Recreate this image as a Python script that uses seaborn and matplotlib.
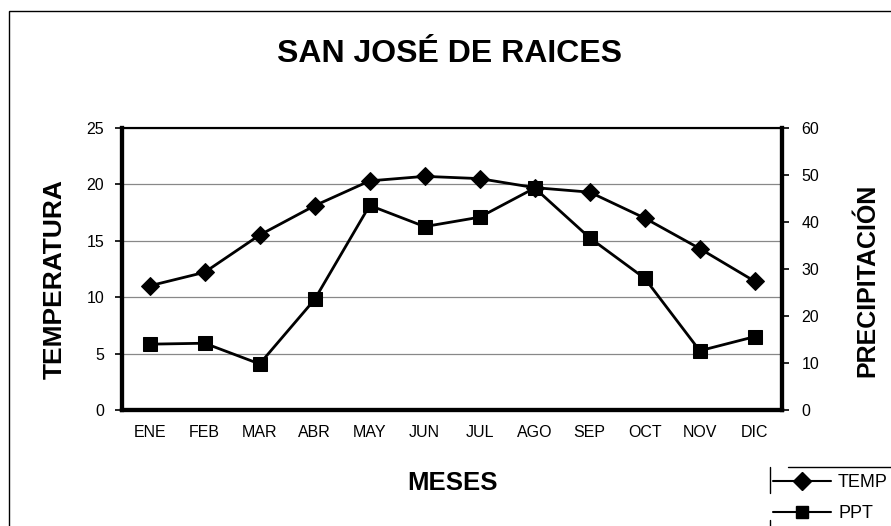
import numpy as np
import pandas as pd
import seaborn as sns
import matplotlib.pyplot as plt
from matplotlib.lines import Line2D
from matplotlib.patches import Rectangle

meses = ['ENE', 'FEB', 'MAR', 'ABR', 'MAY', 'JUN', 'JUL', 'AGO', 'SEP', 'OCT', 'NOV', 'DIC']
temp = [11.0, 12.2, 15.5, 18.1, 20.3, 20.7, 20.5, 19.7, 19.3, 17.0, 14.3, 11.4]
ppt = [14.0, 14.2, 9.8, 23.5, 43.5, 39.0, 41.0, 47.2, 36.6, 28.0, 12.6, 15.6]

sns.set_style('white')
plt.rcParams['font.family'] = ['Liberation Sans', 'DejaVu Sans']
plt.rcParams['text.color'] = 'black'
plt.rcParams['axes.labelcolor'] = 'black'
plt.rcParams['xtick.color'] = 'black'
plt.rcParams['ytick.color'] = 'black'

df = pd.DataFrame({'mes': meses, 'TEMP': temp, 'PPT': ppt})
x = np.arange(len(meses))

fig = plt.figure(figsize=(8.91, 5.26), dpi=100)
ax = fig.add_axes([0.137, 0.2205, 0.741, 0.5365])
ax2 = ax.twinx()

sns.lineplot(x=x, y=df['TEMP'], ax=ax, color='black', marker='D', markersize=9,
             linewidth=2, markeredgecolor='black')
sns.lineplot(x=x, y=df['PPT'], ax=ax2, color='black', marker='s', markersize=10,
             linewidth=2, markeredgecolor='black')

ax.set_xlim(-0.5, 11.5)
ax.set_ylim(0, 25)
ax2.set_ylim(0, 60)
ax.set_yticks([0, 5, 10, 15, 20, 25])
ax2.set_yticks([0, 10, 20, 30, 40, 50, 60])
ax.set_xticks(x)
ax.set_xticklabels(meses)
ax.set_xticks(np.arange(-0.5, 12, 1), minor=True)
ax.tick_params(axis='x', which='major', length=0, pad=11, labelsize=11.5)
ax.tick_params(axis='x', which='minor', length=5, width=1.2, direction='out')
ax.tick_params(axis='y', length=5, width=1.2, direction='out', labelsize=11.5, pad=8)
ax2.tick_params(axis='y', length=5, width=1.2, direction='out', labelsize=11.5, pad=9)
ax.yaxis.grid(True, color='#888888', linewidth=0.9)
ax.set_axisbelow(True)

for a in (ax, ax2):
    for s in a.spines.values():
        s.set_visible(True)
        s.set_color('black')
    a.spines['left'].set_linewidth(3)
    a.spines['right'].set_linewidth(3)
    a.spines['bottom'].set_linewidth(3)
    a.spines['top'].set_linewidth(1.5)

ax.set_xlabel('MESES', fontsize=18.5, fontweight='bold', labelpad=22)
ax.set_ylabel('TEMPERATURA', fontsize=19, fontweight='bold')
ax.yaxis.set_label_coords(-0.084, 0.465)
ax2.set_ylabel('PRECIPITACIÓN', fontsize=18, fontweight='bold')
ax2.yaxis.set_label_coords(1.11, 0.461)
fig.suptitle('SAN JOSÉ DE RAICES', x=0.505, y=0.925, fontsize=23, fontweight='bold')

# leyenda estilo Excel, recortada en la esquina
handles = [Line2D([], [], color='black', marker='D', markersize=9, linewidth=1.5),
           Line2D([], [], color='black', marker='s', markersize=9, linewidth=1.5)]
fig.legend(handles, ['TEMP', 'PPT'], loc='upper left', bbox_to_anchor=(0.8676, 0.099),
           frameon=False, fontsize=13, handlelength=3.2, handletextpad=0.4,
           labelspacing=0.78, borderpad=0, borderaxespad=0)
fig.add_artist(Line2D([0.884, 1.0], [0.112, 0.112], transform=fig.transFigure,
                      color='black', linewidth=1))
fig.add_artist(Line2D([0.864, 0.864], [0.112, 0.063], transform=fig.transFigure,
                      color='black', linewidth=1))
fig.add_artist(Line2D([0.864, 0.864], [0.011, 0.0], transform=fig.transFigure,
                      color='black', linewidth=1))

fig.patches.append(Rectangle((0.01, -0.02), 1.2, 1.0, transform=fig.transFigure,
                             fill=False, edgecolor='black', linewidth=1))

fig.savefig('out.png', dpi=100)
